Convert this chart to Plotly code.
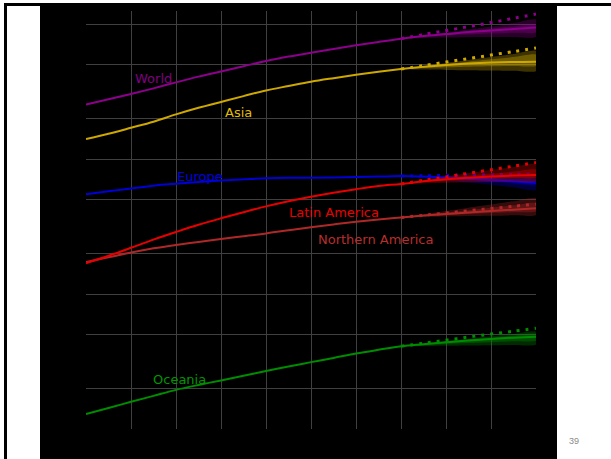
import math
import plotly.graph_objects as go

# Population by region, millions (log scale). Estimates 1950-2020, projections 2020-2050.
hist_years = [1950, 1955, 1960, 1965, 1970, 1975, 1980, 1985, 1990, 1995, 2000, 2005, 2010, 2015, 2020]
proj_years = [2020, 2025, 2030, 2035, 2040, 2045, 2050]

world_hist = [2536, 2773, 3035, 3340, 3700, 4079, 4458, 4871, 5327, 5744, 6143, 6541, 6957, 7380, 7795]
asia_hist = [1405, 1540, 1705, 1892, 2142, 2397, 2650, 2927, 3226, 3476, 3741, 3975, 4209, 4434, 4641]
europe_hist = [549, 577, 605, 635, 657, 677, 694, 708, 721, 727, 726, 729, 736, 741, 748]
latam_hist = [169, 192, 220, 253, 288, 326, 364, 404, 446, 487, 526, 563, 598, 631, 654]
namerica_hist = [173, 187, 203, 218, 231, 243, 256, 268, 281, 297, 313, 328, 343, 357, 369]
oceania_hist = [12.9, 14.3, 15.9, 17.6, 19.5, 21.2, 22.9, 24.8, 26.9, 29.0, 31.3, 33.6, 36.2, 38.6, 41.0]

# Projections: median, high variant, outer interval (lo/hi), inner interval (lo/hi)
world_med = [7795, 8148, 8432, 8725, 8953, 9183, 9419]
world_high = [7795, 8361, 8953, 9583, 10259, 11041, 11862]
world_out_hi = [7795, 8218, 8650, 9105, 9583, 10172, 10798]
world_out_lo = [7795, 7900, 7960, 8000, 8020, 8030, 8040]
world_in_hi = [7795, 8200, 8560, 8900, 9250, 9600, 9950]
world_in_lo = [7795, 8080, 8250, 8400, 8520, 8620, 8700]

asia_med = [4641, 4825, 4975, 5095, 5185, 5245, 5270]
asia_high = [4641, 4927, 5229, 5553, 5894, 6257, 6641]
asia_out_hi = [4641, 4885, 5141, 5412, 5696, 5995, 6310]
asia_out_lo = [4641, 4600, 4570, 4550, 4530, 4510, 4500]
asia_in_hi = [4641, 4860, 5060, 5270, 5480, 5700, 5930]
asia_in_lo = [4641, 4720, 4780, 4830, 4870, 4900, 4920]

europe_med = [748, 741, 730, 716, 700, 683, 665]
europe_high = [748, 752, 757, 762, 766, 770, 773]
europe_out_hi = [748, 750, 748, 744, 738, 730, 722]
europe_out_lo = [748, 720, 695, 670, 645, 617, 590]
europe_in_hi = [748, 746, 740, 732, 722, 711, 700]
europe_in_lo = [748, 735, 718, 700, 682, 662, 642]

latam_med = [654, 684, 708, 727, 742, 754, 763]
latam_high = [654, 696, 738, 785, 833, 886, 942]
latam_out_hi = [654, 699, 742, 788, 829, 872, 918]
latam_out_lo = [654, 662, 668, 672, 676, 679, 681]
latam_in_hi = [654, 690, 722, 752, 780, 807, 833]
latam_in_lo = [654, 676, 692, 705, 716, 724, 730]

namerica_med = [369, 381, 392, 402, 412, 422, 432]
namerica_high = [369, 383, 398, 414, 430, 447, 464]
namerica_out_hi = [369, 390, 412, 436, 460, 486, 514]
namerica_out_lo = [369, 372, 375, 378, 380, 383, 385]
namerica_in_hi = [369, 385, 401, 418, 436, 454, 472]
namerica_in_lo = [369, 377, 384, 391, 398, 404, 410]

oceania_med = [41.0, 42.5, 44.0, 45.3, 46.5, 47.5, 48.3]
oceania_high = [41.0, 43.2, 45.5, 48.0, 50.5, 53.0, 55.7]
oceania_out_hi = [41.0, 42.8, 44.7, 46.6, 48.6, 50.6, 52.6]
oceania_out_lo = [41.0, 41.2, 41.4, 41.6, 41.8, 42.0, 42.2]
oceania_in_hi = [41.0, 42.7, 44.4, 46.0, 47.6, 49.2, 50.7]
oceania_in_lo = [41.0, 41.8, 42.6, 43.3, 44.0, 44.6, 45.2]

grid_years = [1960, 1970, 1980, 1990, 2000, 2010, 2020, 2030, 2040]
grid_pops = [20, 50, 100, 200, 500, 1000, 2000, 5000, 10000]

regions = [
    # name, hist, med, high, out_lo, out_hi, in_lo, in_hi, rgb, label (year, pop), label colour
    ("World", world_hist, world_med, world_high, world_out_lo, world_out_hi, world_in_lo, world_in_hi,
     (140, 0, 140), (1965, 3920), "rgb(128,0,128)"),
    ("Asia", asia_hist, asia_med, asia_high, asia_out_lo, asia_out_hi, asia_in_lo, asia_in_hi,
     (205, 168, 0), (1983.8, 2210), "rgb(225,190,0)"),
    ("Europe", europe_hist, europe_med, europe_high, europe_out_lo, europe_out_hi, europe_in_lo, europe_in_hi,
     (0, 0, 215), (1975.3, 740), "rgb(0,0,225)"),
    ("Northern America", namerica_hist, namerica_med, namerica_high, namerica_out_lo, namerica_out_hi,
     namerica_in_lo, namerica_in_hi, (175, 40, 40), (2014.4, 254), "rgb(185,45,45)"),
    ("Latin America", latam_hist, latam_med, latam_high, latam_out_lo, latam_out_hi, latam_in_lo, latam_in_hi,
     (230, 0, 0), (2005.0, 402), "rgb(235,0,0)"),
    ("Oceania", oceania_hist, oceania_med, oceania_high, oceania_out_lo, oceania_out_hi, oceania_in_lo,
     oceania_in_hi, (0, 140, 0), (1970.7, 23.3), "rgb(0,150,0)"),
]

fig = go.Figure()
annotations = []

for name, hist, med, high, out_lo, out_hi, in_lo, in_hi, rgb, lab_pos, lab_col in regions:
    r, g, b = rgb
    # uncertainty bands
    for lo, hi, alpha in ((out_lo, out_hi, 0.30), (in_lo, in_hi, 0.35)):
        fig.add_trace(go.Scatter(
            x=proj_years + proj_years[::-1], y=hi + lo[::-1],
            fill="toself", fillcolor=f"rgba({r},{g},{b},{alpha})",
            line=dict(width=0, shape="spline", smoothing=0.6), mode="lines",
            hoverinfo="skip", showlegend=False))
    # high variant (dotted)
    fig.add_trace(go.Scatter(
        x=proj_years, y=high, mode="lines",
        line=dict(color=f"rgb({r},{g},{b})", width=3, dash="3px,6px", shape="spline"),
        showlegend=False))
    # estimates + median projection
    fig.add_trace(go.Scatter(
        x=hist_years + proj_years[1:], y=hist + med[1:], mode="lines",
        line=dict(color=f"rgb({r},{g},{b})", width=2, shape="spline", smoothing=1.0),
        name=name, showlegend=False))
    annotations.append(dict(
        x=lab_pos[0], y=math.log10(lab_pos[1]), xref="x", yref="y", text=name,
        showarrow=False, font=dict(family="DejaVu Sans", size=13, color=lab_col),
        xanchor="center", yanchor="middle"))

W, H = 611, 459
L, R, T, B = 86, 75, 11, 30
pw, ph = W - L - R, H - T - B


def px(xpix):
    return (xpix - L) / pw


def py(ypix):
    return (H - B - ypix) / ph


shapes = [
    # black slide panel
    dict(type="rect", xref="paper", yref="paper", x0=px(40), x1=px(557), y0=py(459), y1=py(3),
         fillcolor="black", line=dict(width=0), layer="below"),
    # page frame
    dict(type="rect", xref="paper", yref="paper", x0=px(4), x1=px(7), y0=py(459), y1=py(3),
         fillcolor="black", line=dict(width=0), layer="below"),
    dict(type="rect", xref="paper", yref="paper", x0=px(4), x1=px(611), y0=py(6), y1=py(3),
         fillcolor="black", line=dict(width=0), layer="below"),
]

annotations.append(dict(
    x=px(574), y=py(441), xref="paper", yref="paper", text="39", showarrow=False,
    font=dict(family="Liberation Sans", size=9, color="#8a8a8a"), xanchor="center", yanchor="middle"))

fig.update_layout(
    width=W, height=H,
    margin=dict(l=L, r=R, t=T, b=B, pad=0),
    paper_bgcolor="white", plot_bgcolor="black",
    shapes=shapes, annotations=annotations,
    xaxis=dict(range=[1950, 2050], tickvals=grid_years, showticklabels=False, ticks="",
               showgrid=True, gridcolor="#404040", gridwidth=1, zeroline=False, showline=False),
    yaxis=dict(type="log", range=[1, math.log10(12500)], tickvals=grid_pops, showticklabels=False,
               ticks="", showgrid=True, gridcolor="#404040", gridwidth=1, zeroline=False, showline=False),
    hovermode=False,
)

fig.write_html("out.html")
